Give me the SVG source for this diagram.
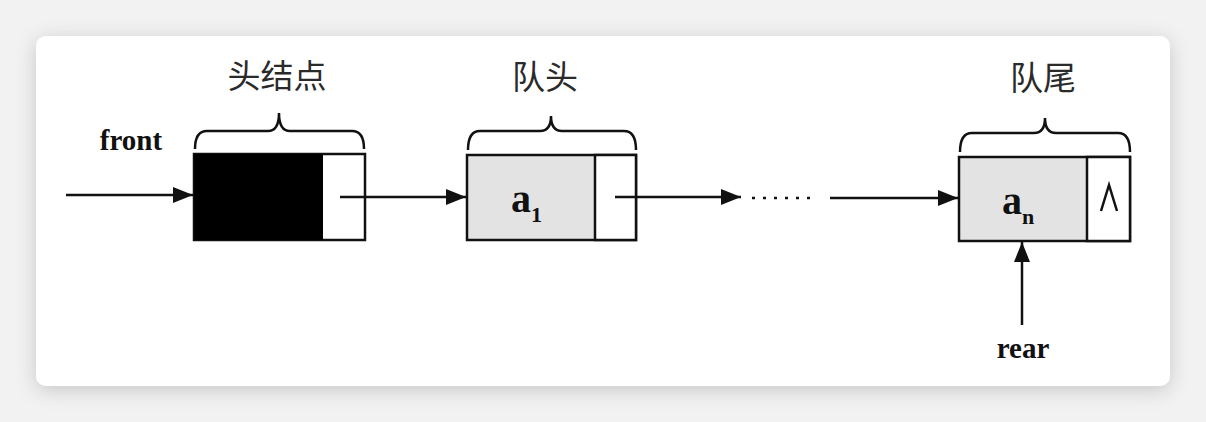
<svg xmlns="http://www.w3.org/2000/svg" width="1206" height="422" viewBox="0 0 1206 422">
<defs>
<filter id="sh" x="-10%" y="-20%" width="120%" height="140%">
<feDropShadow dx="0" dy="4" stdDeviation="10" flood-color="#000" flood-opacity="0.18"/>
</filter>
<marker id="ahb" viewBox="0 0 20 16" refX="20" refY="8" markerWidth="20" markerHeight="16" markerUnits="userSpaceOnUse" orient="auto">
<path d="M0,0 L20,8 L0,16 Z" fill="#111"/>
</marker>
</defs>
<style>
.lab{font-family:"Noto Sans CJK SC","Noto Sans",sans-serif;font-size:33px;fill:#2a2a2a;text-anchor:middle}
.en{font-family:"Liberation Serif",serif;font-weight:bold;font-size:29px;fill:#111;text-anchor:middle}
.val{font-family:"Liberation Serif",serif;font-weight:bold;font-size:40px;fill:#111}
.sub{font-family:"Liberation Serif",serif;font-weight:bold;font-size:22px;fill:#111}
.box{stroke:#111;stroke-width:2.5}
.brace{fill:none;stroke:#111;stroke-width:2.5}
.ln{stroke:#111;stroke-width:2.5;fill:none}
</style>
<rect x="0" y="0" width="1206" height="422" fill="#f2f2f2"/>
<rect x="36" y="36" width="1134" height="350" rx="10" fill="#fff" filter="url(#sh)"/>

<g id="head">
<text class="lab" x="277" y="88">头结点</text>
<path class="brace" d="M195,149 Q195,131 207,131 L268,131 Q279,131 279,113 Q279,131 290,131 L352,131 Q364,131 364,149"/>
<rect class="box" x="194" y="154" width="171" height="86" fill="#fff"/>
<rect x="194" y="154" width="129" height="86" fill="#000"/>
</g>

<g id="node1">
<text class="lab" x="545" y="89">队头</text>
<path class="brace" d="M468,150 Q468,131 480,131 L540,131 Q551,131 551,116 Q551,131 562,131 L624,131 Q636,131 636,150"/>
<rect class="box" x="467" y="155" width="169" height="85" fill="#e3e3e3"/>
<rect class="box" x="595" y="155" width="41" height="85" fill="#fff"/>
<text class="val" x="511" y="212">a</text>
<text class="sub" x="531" y="222">1</text>
</g>

<g id="noden">
<text class="lab" x="1043" y="90">队尾</text>
<path class="brace" d="M960,152 Q960,133 972,133 L1034,133 Q1045,133 1045,118 Q1045,133 1056,133 L1118,133 Q1130,133 1130,152"/>
<rect class="box" x="959" y="157" width="171" height="84" fill="#e3e3e3"/>
<rect class="box" x="1087" y="157" width="43" height="84" fill="#fff"/>
<text class="val" x="1002" y="214">a</text>
<text class="sub" x="1022" y="224">n</text>
<path class="ln" d="M1101,211 L1109,185 L1117,211" stroke-width="2"/>
</g>

<g id="labels">
<text class="en" x="131" y="150">front</text>
<text class="en" x="1023" y="358">rear</text>
</g>

<g id="connectors">
<line class="ln" x1="66" y1="195" x2="193" y2="195" marker-end="url(#ahb)"/>
<line class="ln" x1="340" y1="197" x2="466" y2="197" marker-end="url(#ahb)"/>
<line class="ln" x1="615" y1="197" x2="741" y2="197" marker-end="url(#ahb)"/>
<line class="ln" x1="752" y1="198" x2="816" y2="198" stroke-width="3" stroke-dasharray="3,8"/>
<line class="ln" x1="830" y1="198" x2="958" y2="198" marker-end="url(#ahb)"/>
<line class="ln" x1="1022" y1="325" x2="1022" y2="242" marker-end="url(#ahb)"/>
</g>
</svg>
